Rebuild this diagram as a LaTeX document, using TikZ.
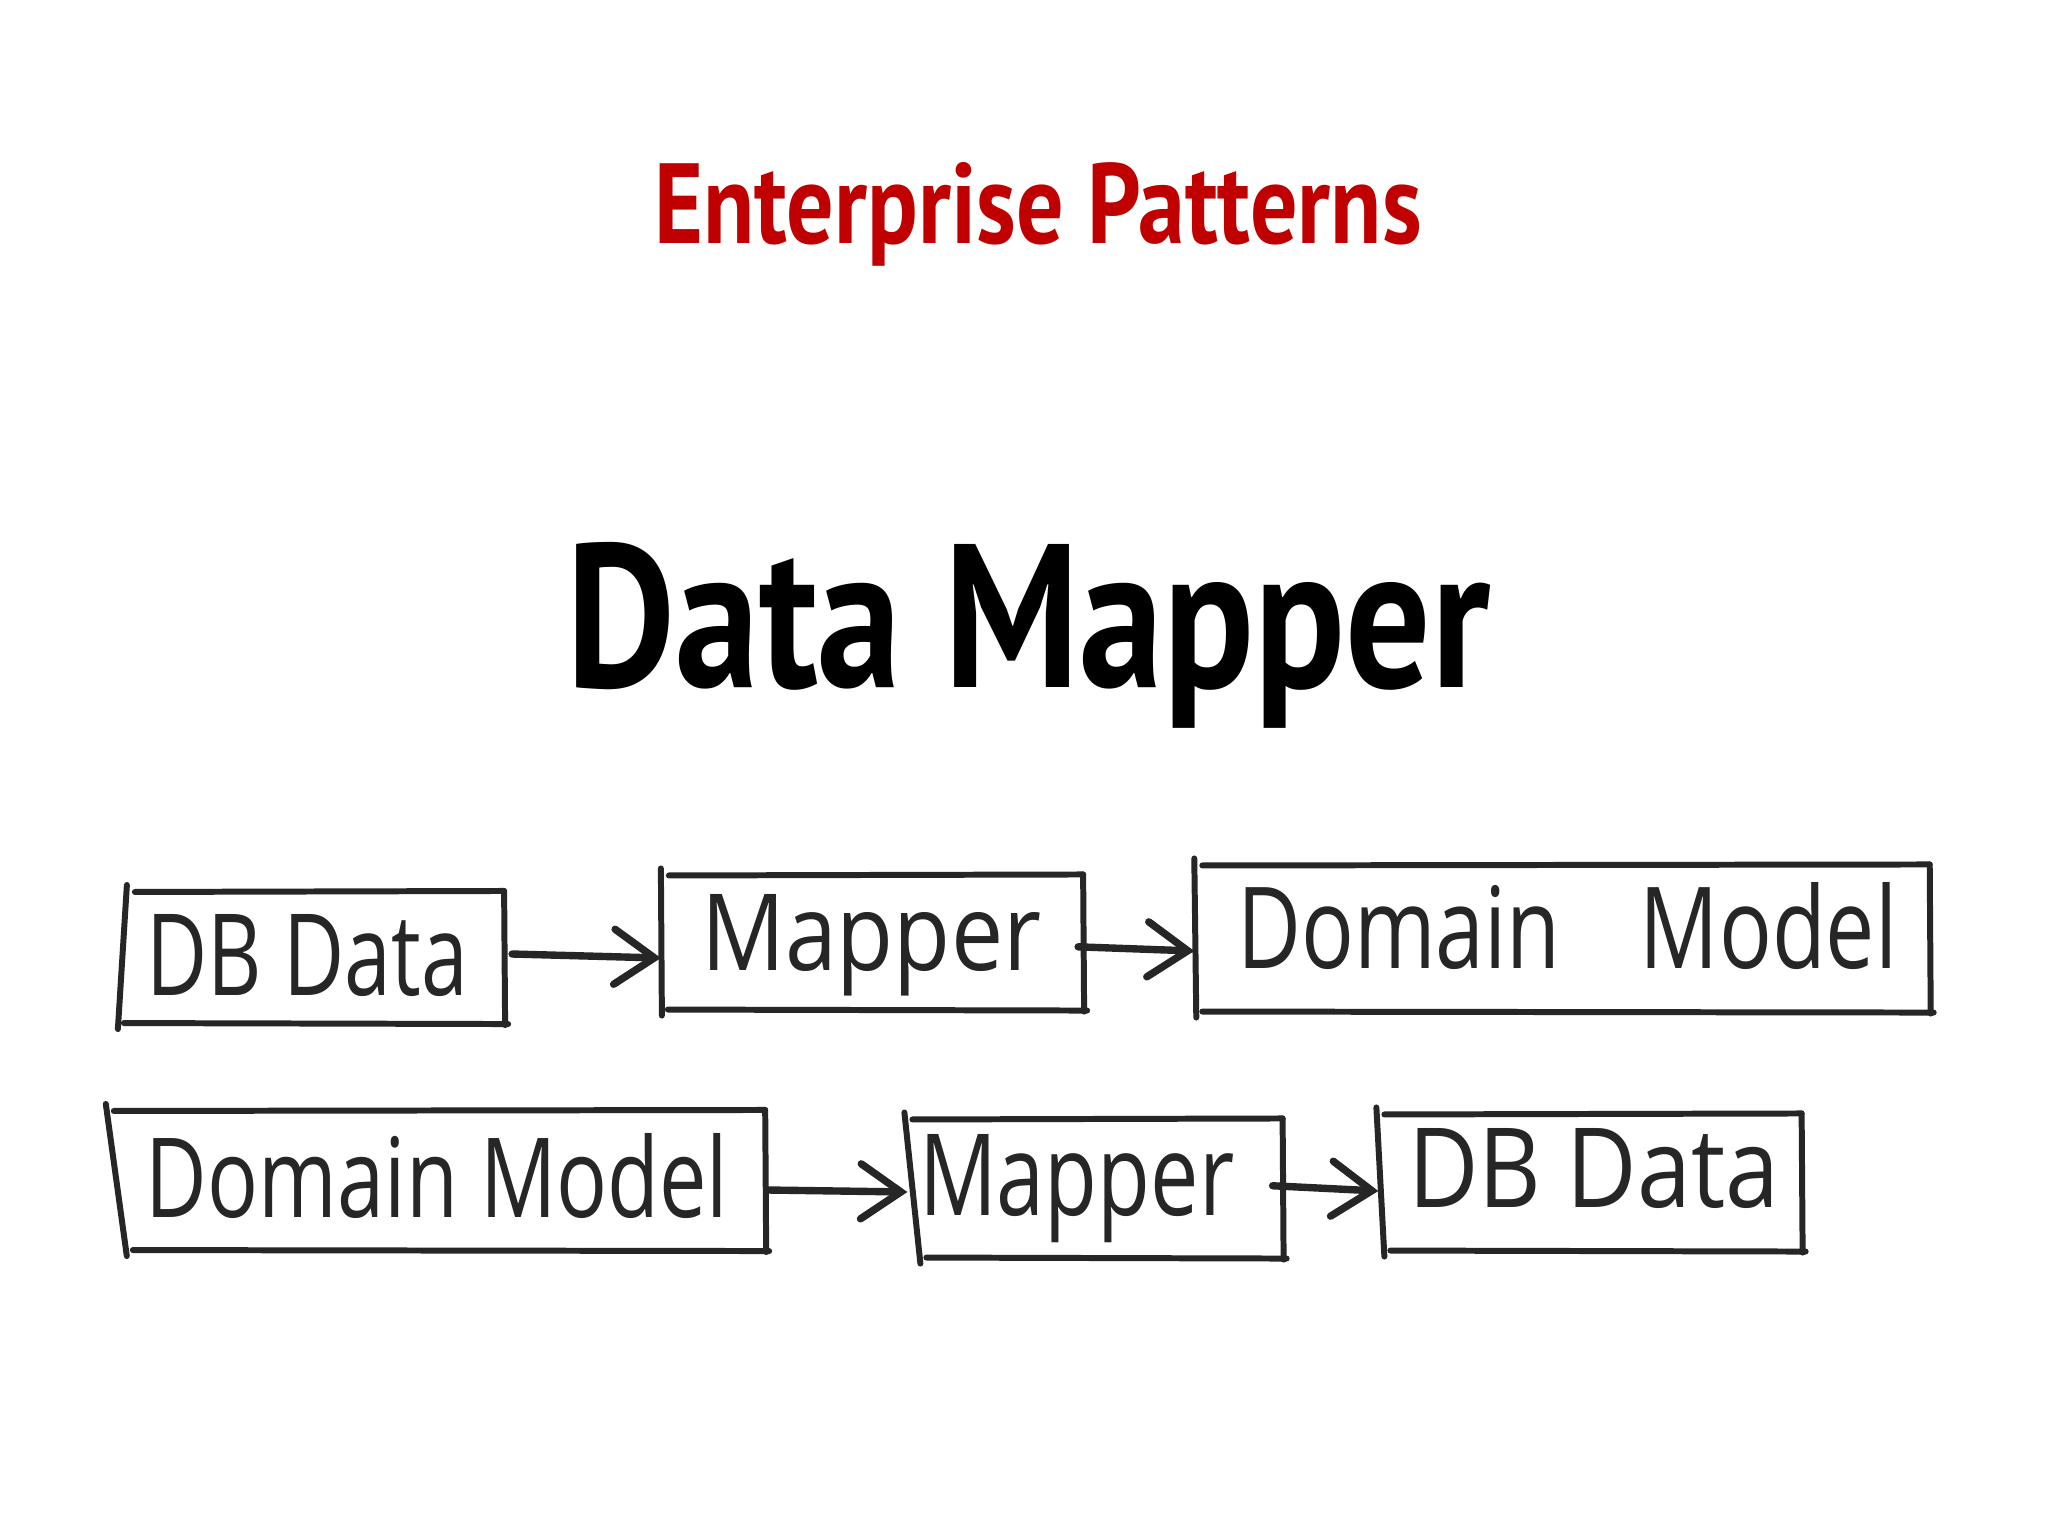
\documentclass[tikz,border=0pt]{standalone}
\usepackage{fontspec}
\newfontfamily\ptsans{PT Sans}
\newfontfamily\handfont{Open Sans}
\usetikzlibrary{arrows.meta,calc}
\definecolor{titlered}{RGB}{192,0,0}
\definecolor{ink}{RGB}{38,38,38}
\tikzset{
  boxarea/.style={rectangle, inner sep=0pt, outer sep=0pt, draw=none},
  hand/.style={draw=ink, line width=1.7pt, line cap=round, line join=round},
  harrow/.style={draw=ink, line width=2.1pt, line cap=round,
    -{Straight Barb[length=4mm,width=5.5mm,line cap=round]}},
  lbl/.style={inner sep=0pt, outer sep=0pt, text=ink, font=\handfont, anchor=base west},
  headline/.style={inner sep=0pt, outer sep=0pt, anchor=base west, font=\ptsans\bfseries},
}
% #1 node name, #2 top-left x offset, #3 bottom-left x offset (px units)
\newcommand{\sketchrect}[3]{%
  \draw[hand] ($(#1.north west)+(#2,-6)$) -- ($(#1.south west)+(#3,6)$);
  \draw[hand] ($(#1.north west)+(#2+8,1)$) -- ($(#1.north east)+(0,0)$);
  \draw[hand] ($(#1.north east)+(0,0)$) -- ($(#1.south east)+(1,2)$);
  \draw[hand] ($(#1.south west)+(#3+6,0)$) -- ($(#1.south east)+(4,1)$);
}
\begin{document}
\begin{tikzpicture}[x=0.01cm,y=-0.01cm]
\useasboundingbox[fill=white] (0,0) rectangle (2048,1536);

% headings
\node[headline, text=titlered] (title) at (654,243)
  {\resizebox{7.67cm}{0.81cm}{Enterprise Patterns}};
\node[headline, text=black] (heading) at (566,687)
  {\resizebox{9.24cm}{1.45cm}{Data Mapper}};

% row 1 boxes
\node[boxarea, minimum width=3.84cm, minimum height=1.32cm] (a1) at (312,957) {};
\node[boxarea, minimum width=4.22cm, minimum height=1.35cm] (a2) at (872,942) {};
\node[boxarea, minimum width=7.35cm, minimum height=1.47cm] (a3) at (1562,938) {};
% row 2 boxes
\node[boxarea, minimum width=6.50cm, minimum height=1.40cm] (b1) at (440,1180) {};
\node[boxarea, minimum width=3.75cm, minimum height=1.39cm] (b2) at (1095,1188) {};
\node[boxarea, minimum width=4.23cm, minimum height=1.37cm] (b3) at (1590,1182) {};

\sketchrect{a1}{7}{-2}
\sketchrect{a2}{0}{1}
\sketchrect{a3}{0}{2}
\sketchrect{b1}{-9}{12}
\sketchrect{b2}{-3}{13}
\sketchrect{b3}{-2}{6}

% labels
\node[lbl] (la1) at (146,995) {\resizebox{3.22cm}{0.81cm}{DB Data}};
\node[lbl] (la2) at (701,970) {\resizebox{3.40cm}{0.76cm}{Mapper}};
\node[lbl] (la3) at (1237,968) {\resizebox{6.60cm}{0.86cm}{Domain\hspace{0.9em}Model}};
\node[lbl] (lb1) at (146,1217) {\resizebox{5.82cm}{0.84cm}{Domain Model}};
\node[lbl] (lb2) at (919,1215) {\resizebox{3.15cm}{0.81cm}{Mapper}};
\node[lbl] (lb3) at (1408,1207) {\resizebox{3.71cm}{0.79cm}{DB Data}};

% arrows
\draw[harrow] ($(a1.east)+(8,-3)$) -- ($(a2.west |- a1.east)+(0,1)$);
\draw[harrow, shorten <=-0.5mm] ($(a2.east)+(0,5)$) -- ($(a3.west |- a2.east)+(0,9)$);
\draw[harrow] ($(b1.east)+(3,10)$) -- ($(b2.west |- b1.east)+(0,12)$);
\draw[harrow, shorten <=-0.5mm] ($(b2.east)+(-5,-2)$) -- ($(b3.west |- b2.east)+(0,3)$);
\end{tikzpicture}
\end{document}
